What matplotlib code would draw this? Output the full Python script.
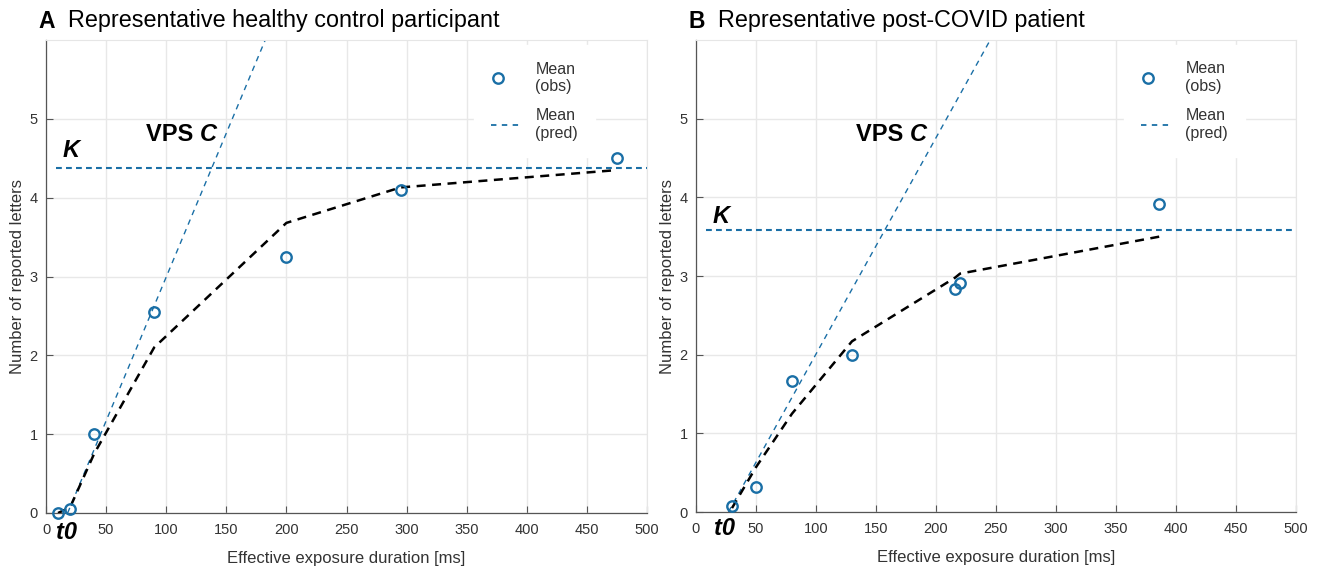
import matplotlib
matplotlib.use("Agg")
import matplotlib.pyplot as plt
from matplotlib.lines import Line2D
from matplotlib.legend_handler import HandlerLine2D
import numpy as np

plt.rcParams['font.family'] = ['Liberation Sans', 'DejaVu Sans']

# ---------------- data ----------------
a_obs_x = [10, 20, 40, 90, 200, 295, 475]
a_obs_y = [0.0, 0.05, 1.0, 2.55, 3.25, 4.10, 4.50]
a_pred_x = [10, 20, 40, 90, 200, 295, 475]
a_pred_y = [0.0, 0.07, 0.75, 2.10, 3.68, 4.13, 4.35]
a_K = 4.38
a_t0 = 18
a_C = 0.0365   # letters per ms

b_obs_x = [30, 50, 80, 130, 216, 220, 386]
b_obs_y = [0.07, 0.32, 1.67, 1.99, 2.84, 2.91, 3.91]
b_pred_x = [30, 50, 80, 130, 216, 220, 386]
b_pred_y = [0.05, 0.57, 1.25, 2.17, 2.98, 3.03, 3.50]
b_K = 3.58
b_t0 = 27
b_C = 0.0275

titles = ["Representative healthy control participant", "Representative post-COVID patient"]
letters = ["A", "B"]
xticks = [0, 50, 100, 150, 200, 250, 300, 350, 400, 450, 500]
yticks = [0, 1, 2, 3, 4, 5]

BLUE = '#1a6fa6'
GRID = '#e8e8e8'
TXT = '#333333'


class LeftMarkerHandler(HandlerLine2D):
    def create_artists(self, legend, orig_handle, xdescent, ydescent, width,
                       height, fontsize, trans):
        arts = super().create_artists(legend, orig_handle, xdescent, ydescent,
                                      width, height, fontsize, trans)
        for a in arts:
            a.set_xdata(np.asarray(a.get_xdata(), dtype=float) - 0.27 * width)
        return arts


fig = plt.figure(figsize=(13.18, 5.69), dpi=100)
W, H = 1318, 569
axA = fig.add_axes([46 / W, 1 - 513 / H, 601 / W, 473 / H])
axB = fig.add_axes([696 / W, 1 - 512 / H, 600 / W, 472 / H])

panels = [
    (axA, a_obs_x, a_obs_y, a_pred_x, a_pred_y, a_K, a_t0, a_C,
     dict(k=(21, 4.60), vps=(128, 4.80), t0=(17, -0.25)), 0.712, 46),
    (axB, b_obs_x, b_obs_y, b_pred_x, b_pred_y, b_K, b_t0, b_C,
     dict(k=(21, 3.76), vps=(178, 4.80), t0=(24, -0.21)), 0.713, 696),
]

for i, (ax, ox, oy, px, py, K, t0, C, lab, legx, left) in enumerate(panels):
    ax.set_xlim(0, 500)
    ax.set_ylim(0, 6)
    ax.set_xticks(xticks)
    ax.set_yticks(yticks)
    ax.grid(True, color=GRID, linewidth=1.0)
    ax.set_axisbelow(True)
    for s in ['top', 'right']:
        ax.spines[s].set_color('#e6e6e6')
        ax.spines[s].set_linewidth(0.8)
    for s in ['left', 'bottom']:
        ax.spines[s].set_color('#555555')
        ax.spines[s].set_linewidth(0.9)
    ax.tick_params(axis='both', direction='in', length=5, width=0.8,
                   colors='#555555', labelcolor=TXT, labelsize=10.5)
    ax.tick_params(axis='x', pad=7)
    ax.tick_params(axis='y', pad=6)

    # VPS line (slope C through t0)
    xv = np.array([t0, t0 + 6.5 / C])
    ax.plot(xv, C * (xv - t0), color=BLUE, linewidth=1.0, dashes=(4, 3.5),
            zorder=2)
    # K asymptote
    ax.axhline(K, xmin=0.016, xmax=1.0, color=BLUE, linewidth=1.5,
               dashes=(2.8, 2.0), zorder=2)
    # predicted mean
    ax.plot(px, py, color='black', linewidth=1.8, dashes=(3.6, 2.6), zorder=3)
    # observed mean
    ax.plot(ox, oy, linestyle='none', marker='o', markersize=7.5,
            markerfacecolor='none', markeredgecolor=BLUE,
            markeredgewidth=1.7, zorder=4, clip_on=False)

    ax.text(lab['k'][0], lab['k'][1], 'K', fontsize=17, fontweight='bold',
            fontstyle='italic', ha='center', va='center')
    ax.text(lab['vps'][0], lab['vps'][1], 'VPS ',
            fontsize=17, fontweight='bold', ha='right', va='center')
    ax.text(lab['vps'][0], lab['vps'][1], 'C', fontsize=17, fontweight='bold',
            fontstyle='italic', ha='left', va='center')
    ax.text(lab['t0'][0], lab['t0'][1], 't0', fontsize=17, fontweight='bold',
            fontstyle='italic', ha='center', va='center', clip_on=False)

    ax.set_xlabel('Effective exposure duration [ms]', fontsize=12, color=TXT,
                  labelpad=10)
    ax.set_ylabel('Number of reported letters', fontsize=12, color=TXT,
                  labelpad=3)

    handles = [
        Line2D([], [], linestyle='none', marker='o', markersize=7.5,
               markerfacecolor='none', markeredgecolor=BLUE, markeredgewidth=1.7),
        Line2D([], [], color=BLUE, linewidth=1.3, dashes=(3, 3)),
    ]
    leg = ax.legend(handles, ['Mean\n(obs)', 'Mean\n(pred)'],
                    loc='upper left', bbox_to_anchor=(legx, 0.99),
                    frameon=True, fancybox=False, fontsize=11.5,
                    handlelength=1.95, handletextpad=0.85, labelspacing=0.9,
                    borderpad=1.05, borderaxespad=0,
                    handler_map={handles[0]: LeftMarkerHandler(numpoints=1)})
    leg.get_frame().set_facecolor('white')
    leg.get_frame().set_edgecolor('white')
    leg.get_frame().set_alpha(1.0)
    for t in leg.get_texts():
        t.set_color(TXT)

    fig.text((left - 8) / W, 1 - 21 / H, letters[i], fontsize=16.5,
             fontweight='bold', ha='left', va='center')
    fig.text((left + 22) / W, 1 - 21 / H, titles[i], fontsize=16.8,
             ha='left', va='center')

fig.savefig('out.png', dpi=100)
